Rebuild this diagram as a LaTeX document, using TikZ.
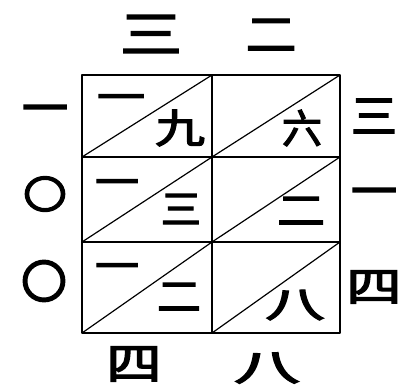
\documentclass[tikz,border=0pt]{standalone}
\usepackage{fontspec}
\newfontfamily\cjk[FakeBold=3]{Noto Sans CJK SC}
\newcommand\stretchxy[3]{\scalebox{#1}[#2]{#3}}
\begin{document}
\begin{tikzpicture}[x=1pt,y=-1pt,
  outer/.style={font=\cjk\fontsize{46}{46}\selectfont, inner sep=0pt},
  cell/.style={font=\cjk\fontsize{40}{40}\selectfont, inner sep=0pt},
  frame/.style={line width=2.4pt, line join=round},
  gridline/.style={line width=1.3pt},
  diag/.style={line width=1.2pt}]
\useasboundingbox (0,0) rectangle (404,386);
% grid corners
\foreach \c/\x in {0/82,1/212,2/340}{
  \foreach \r/\y in {0/75,1/157,2/242,3/333}{
    \coordinate (p\c\r) at (\x,\y);
  }
}
% frame
\draw[frame] (p00) -- (p20) -- (p23) -- (p03) -- cycle;
% inner lines
\draw[gridline] (p10) -- (p13);
\draw[gridline] (p01) -- (p21);
\draw[gridline] (p02) -- (p22);
% diagonals
\draw[diag] (p01) -- (p10);
\draw[diag] (p11) -- (p20);
\draw[diag] (p02) -- (p11);
\draw[diag] (p12) -- (p21);
\draw[diag] (p03) -- (p12);
\draw[diag] (p13) -- (p22);
% top labels
\node[outer] (t1) at (151,34) {\stretchxy{1.35}{1.1}{三}};
\node[outer] (t2) at (271,35) {\stretchxy{1.1}{1}{二}};
% left labels
\node[outer] (l1) at (45,115) {一};
\node[outer] (l2) at (45,194) {\stretchxy{0.95}{0.85}{〇}};
\node[outer] (l3) at (44,281) {〇};
% right labels
\node[outer] (r1) at (374,116) {三};
\node[outer] (r2) at (374,198) {一};
\node[outer] (r3) at (374,287) {\stretchxy{1.2}{0.9}{四}};
% bottom labels
\node[outer] (b1) at (134,364) {\stretchxy{1.2}{0.95}{四}};
\node[outer] (b2) at (267,368) {\stretchxy{1.45}{0.8}{八}};
% cell digits
\node[cell] (c11) at (121,103) {\stretchxy{1.2}{1}{一}};
\node[cell] (c12) at (180,128) {\stretchxy{1.25}{1}{九}};
\node[cell] (c22) at (302,128) {六};
\node[cell] (c31) at (117,188) {\stretchxy{1.1}{1}{一}};
\node[cell] (c32) at (181,209) {三};
\node[cell] (c42) at (301,211) {\stretchxy{1.2}{1}{二}};
\node[cell] (c51) at (117,272) {\stretchxy{1.1}{1}{一}};
\node[cell] (c52) at (179,297) {\stretchxy{1.1}{1}{二}};
\node[cell] (c62) at (295,305) {\stretchxy{1.5}{0.9}{八}};
\end{tikzpicture}
\end{document}
